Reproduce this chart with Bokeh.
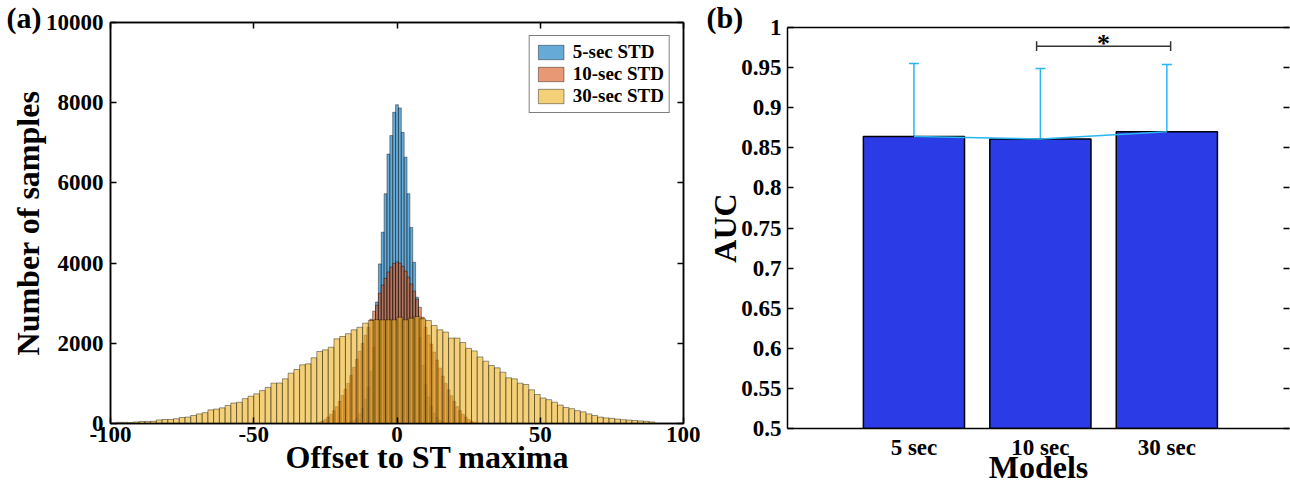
import numpy as np
from bokeh.plotting import figure
from bokeh.layouts import row, column
from bokeh.models import (Range1d, LinearAxis, FixedTicker, Label, Legend, LegendItem, Title,
                          Whisker, TeeHead, ColumnDataSource, CustomJSTickFormatter)
from bokeh.embed import file_html
from bokeh.resources import INLINE

FONT = "Liberation Serif"

# ---------------- panel (a): histograms of offsets ----------------
std5_width = 1
std5_centers = list(range(-16, 17))
std5_counts = [40, 70, 130, 230, 380, 600, 900, 1300, 1900, 3030, 3980, 4770, 5730, 6720,
               7180, 7760, 7950, 7870, 7260, 6640, 5730, 4890, 4020, 3150, 2150, 1450, 980,
               660, 420, 260, 150, 80, 40]

std10_width = 1
std10_centers = list(range(-27, 28))
std10_counts = [30, 60, 100, 160, 230, 320, 420, 550, 700, 850,
                1000, 1200, 1400, 1600, 1800, 2000, 2200, 2400, 2600, 2800,
                2950, 3250, 3450, 3620, 3780, 3900, 3990,
                4030,
                4000, 3920, 3800, 3650, 3480, 3300, 3100, 2900, 2650, 2400,
                2200, 1980, 1780, 1580, 1380, 1180, 1000, 840, 690, 550,
                420, 320, 230, 160, 100, 60, 30]

std30_width = 2
std30_left_edges = list(range(-98, 90, 2))
std30_counts = [30, 30, 20, 40, 50, 50, 55, 90, 100, 100,
                120, 150, 160, 200, 240, 270, 340, 360, 390, 450,
                510, 530, 620, 680, 740, 820, 900, 1006, 1010, 1114,
                1255, 1347, 1463, 1488, 1638, 1796, 1837, 1903, 2112, 2170,
                2240, 2336, 2400, 2502, 2569, 2590, 2585, 2585, 2585, 2652,
                2585, 2627, 2669, 2611, 2569, 2444, 2336, 2280, 2130, 2130,
                2020, 1875, 1810, 1660, 1554, 1447, 1388, 1280, 1139, 1114,
                1006, 973, 840, 723, 636, 595, 532, 460, 400, 370,
                320, 290, 240, 200, 160, 140, 130, 110, 95, 85,
                75, 65, 55, 40]

hist_labels = ["5-sec STD", "10-sec STD", "30-sec STD"]
hist_colors = ["#0072BD", "#D95319", "#EDB120"]
x_ticks_a = [-100, -50, 0, 50, 100]
x_tick_labels_a = ["-100", "-50", "0", "50", "100"]
y_ticks_a = [0, 2000, 4000, 6000, 8000, 10000]

# ---------------- panel (b): AUC per model ----------------
models = ["5 sec", "10 sec", "30 sec"]
model_pos = [1, 2, 3]
auc_mean = [0.864, 0.861, 0.870]
auc_upper = [0.955, 0.949, 0.954]
auc_lower = [0.773, 0.772, 0.788]
y_ticks_b = [0.5, 0.55, 0.6, 0.65, 0.7, 0.75, 0.8, 0.85, 0.9, 0.95, 1.0]
y_tick_labels_b = ["0.5", "0.55", "0.6", "0.65", "0.7", "0.75", "0.8", "0.85", "0.9", "0.95", "1"]
sig_ends = [1.97, 3.03]
sig_level = 0.9767
sig_text = "*"

BAR_COLOR = "#2B3BE6"
ERR_COLOR = "#2BB5F2"
TICK_SIZE = "23px"
AX_LABEL_SIZE = "32px"


def style_axis(ax, size=TICK_SIZE):
    ax.axis_line_color = "black"
    ax.axis_line_width = 1.5
    ax.major_tick_line_color = "black"
    ax.major_tick_line_width = 1.5
    ax.major_tick_in = 6
    ax.major_tick_out = 0
    ax.minor_tick_line_color = None
    ax.major_label_text_font = FONT
    ax.major_label_text_font_style = "bold"
    ax.major_label_text_font_size = size
    ax.major_label_text_color = "black"
    ax.axis_label_text_font = FONT
    ax.axis_label_text_font_style = "bold"
    ax.axis_label_text_font_size = AX_LABEL_SIZE
    ax.axis_label_text_color = "black"


def blank_axis(ticks, show_line=True, tick_len=6):
    ax = LinearAxis(ticker=FixedTicker(ticks=ticks),
                    formatter=CustomJSTickFormatter(code="return ''"))
    style_axis(ax, size="1px")
    ax.major_label_standoff = 0
    ax.axis_label_standoff = 0
    ax.major_tick_in = tick_len
    if tick_len == 0:
        ax.major_tick_line_color = None
    if not show_line:
        ax.axis_line_color = None
    return ax


def side_text(text, offset, standoff, size="32px"):
    return Title(text=text, align="left", offset=offset, standoff=standoff,
                 text_font=FONT, text_font_style="bold", text_font_size=size,
                 text_color="black")


# ================= figure (a) =================
p1 = figure(width=700, height=488, x_range=Range1d(-100, 100), y_range=Range1d(0, 10000),
            min_border_left=110, min_border_right=17, min_border_top=22, min_border_bottom=65,
            output_backend="svg", toolbar_location=None)
p1.xgrid.visible = False
p1.ygrid.visible = False
p1.outline_line_color = "black"
p1.outline_line_width = 1.5
p1.background_fill_color = "white"
p1.border_fill_color = "white"

p1.xaxis.ticker = FixedTicker(ticks=x_ticks_a)
p1.xaxis.major_label_overrides = {t: s for t, s in zip(x_ticks_a, x_tick_labels_a)}
p1.yaxis.ticker = FixedTicker(ticks=y_ticks_a)
style_axis(p1.xaxis[0])
style_axis(p1.yaxis[0])
p1.xaxis.major_label_standoff = 3
p1.yaxis.major_label_standoff = 7
p1.yaxis.axis_label = "Number of samples"
p1.yaxis.axis_label_standoff = -3
p1.add_layout(blank_axis(x_ticks_a), "above")
p1.add_layout(blank_axis(y_ticks_a), "right")

edge_kw = dict(line_color="black", line_alpha=0.5, line_width=0.8, fill_alpha=0.6)
r5 = p1.quad(left=[c - std5_width / 2 for c in std5_centers],
             right=[c + std5_width / 2 for c in std5_centers],
             top=std5_counts, bottom=0, fill_color=hist_colors[0], **edge_kw)
r10 = p1.quad(left=[c - std10_width / 2 for c in std10_centers],
              right=[c + std10_width / 2 for c in std10_centers],
              top=std10_counts, bottom=0, fill_color=hist_colors[1], **edge_kw)
r30 = p1.quad(left=std30_left_edges,
              right=[e + std30_width for e in std30_left_edges],
              top=std30_counts, bottom=0, fill_color=hist_colors[2], **edge_kw)

legend = Legend(items=[LegendItem(label=hist_labels[0], renderers=[r5]),
                       LegendItem(label=hist_labels[1], renderers=[r10]),
                       LegendItem(label=hist_labels[2], renderers=[r30])],
                location="top_right", margin=13, padding=5, spacing=0,
                glyph_width=32, glyph_height=18, label_height=18, label_standoff=6,
                label_text_font=FONT, label_text_font_style="bold",
                label_text_font_size="19px", label_text_color="black",
                border_line_color="black", border_line_width=1.5,
                background_fill_color="white", background_fill_alpha=1.0)
p1.add_layout(legend)

p1.add_layout(side_text("(a)", offset=-104, standoff=-23, size="30px"), "above")
p1.add_layout(side_text("Offset to ST maxima", offset=175, standoff=-16), "below")

# ================= figure (b) =================
p2 = figure(width=590, height=488, x_range=Range1d(0, 3.97), y_range=Range1d(0.5, 1.0),
            min_border_left=87, min_border_right=1, min_border_top=27, min_border_bottom=60,
            output_backend="svg", toolbar_location=None)
p2.xgrid.visible = False
p2.ygrid.visible = False
p2.outline_line_color = None
p2.background_fill_color = "white"
p2.border_fill_color = "white"

p2.xaxis.ticker = FixedTicker(ticks=model_pos)
p2.xaxis.major_label_overrides = {p: m for p, m in zip(model_pos, models)}
p2.yaxis.ticker = FixedTicker(ticks=y_ticks_b)
p2.yaxis.major_label_overrides = {t: s for t, s in zip(y_ticks_b, y_tick_labels_b)}
style_axis(p2.xaxis[0])
style_axis(p2.yaxis[0])
p2.xaxis.major_tick_in = 0
p2.xaxis.major_tick_line_color = None
p2.xaxis.major_label_standoff = 6
p2.yaxis.major_label_standoff = 6
p2.xaxis.axis_label = "Models"
p2.xaxis.axis_label_standoff = -14
p2.yaxis.axis_label = "AUC"
p2.yaxis.axis_label_standoff = -5
p2.add_layout(blank_axis([], tick_len=0), "above")
p2.add_layout(blank_axis(y_ticks_b, show_line=False), "right")

p2.vbar(x=model_pos, top=auc_mean, bottom=0.5, width=0.8, fill_color=BAR_COLOR,
        line_color="black", line_width=1.5)
p2.line(model_pos, auc_mean, line_color=ERR_COLOR, line_width=1.5)
err_src = ColumnDataSource(dict(x=model_pos, upper=auc_upper, lower=auc_lower))
p2.add_layout(Whisker(base="x", upper="upper", lower="lower", source=err_src,
                      line_color=ERR_COLOR, line_width=1.5,
                      upper_head=TeeHead(size=10, line_color=ERR_COLOR, line_width=1.5),
                      lower_head=TeeHead(size=10, line_color=ERR_COLOR, line_width=1.5)))

p2.segment(x0=[sig_ends[0], sig_ends[0], sig_ends[1]],
           y0=[sig_level, sig_level - 0.006, sig_level - 0.006],
           x1=[sig_ends[1], sig_ends[0], sig_ends[1]],
           y1=[sig_level, sig_level + 0.006, sig_level + 0.006],
           line_color="#333333", line_width=1.5)
p2.add_layout(Label(x=(sig_ends[0] + sig_ends[1]) / 2, y=sig_level, y_offset=3, text=sig_text,
                    text_align="center", text_baseline="middle", text_font=FONT,
                    text_font_style="bold", text_font_size="26px", text_color="black"))

p2.add_layout(side_text("(b)", offset=-81, standoff=-13, size="30px"), "above")

layout = row(p1, column(p2))
open("out.html", "w").write(file_html(layout, INLINE))
